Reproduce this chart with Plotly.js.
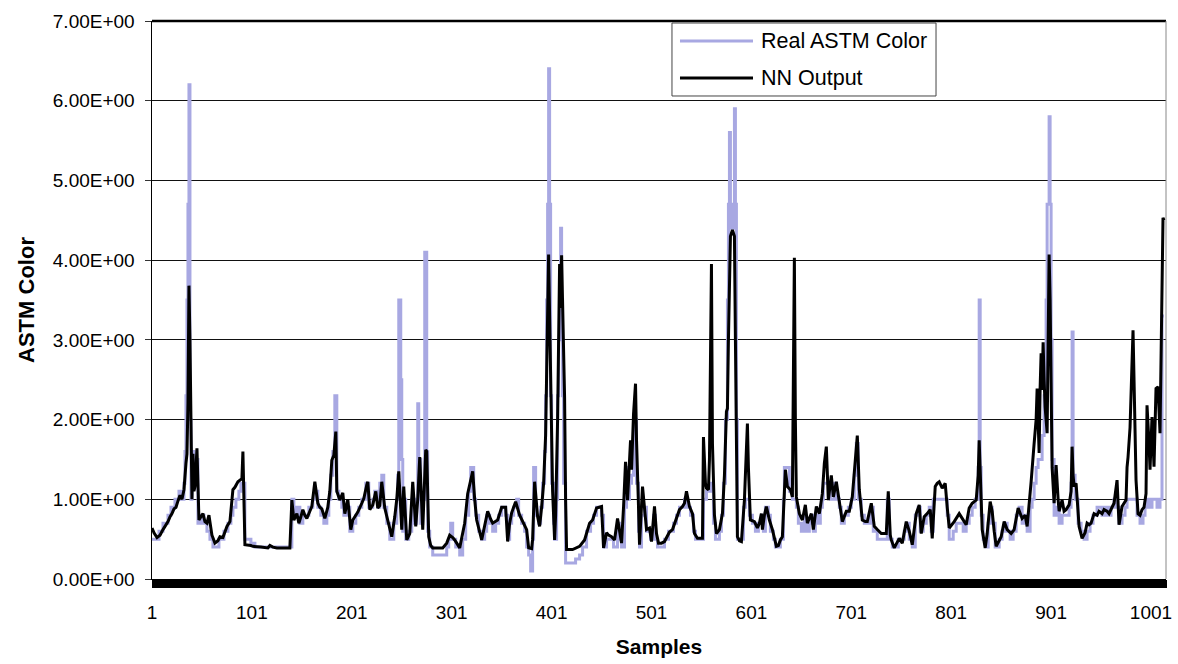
<!DOCTYPE html>
<html>
<head>
<meta charset="utf-8">
<script src="https://cdn.plot.ly/plotly-3.0.1.min.js"></script>
<style>
  html, body { margin: 0; padding: 0; background: #ffffff; }
  #chart { width: 1178px; height: 664px; }
</style>
</head>
<body>
<div id="chart"></div>
<script>
// ---- Data ----
// NN Output: sample index (vertices) and values
const nnSamples = [1,3,6,9,12,15,17,19,21,23,25,27,29,31,33,35,36,37,38,39,40,41,42,43,44,46,47,48,50,52,54,56,58,61,64,67,69,72,76,79,82,84,87,91,92,93,94,100,102,110,117,119,122,126,139,141,143,146,148,150,152,154,156,159,161,164,167,169,171,174,177,179,181,183,185,186,189,192,194,197,200,202,205,207,211,213,216,217,219,222,225,227,229,231,234,237,241,244,246,248,250,251,253,256,259,262,265,267,269,272,275,276,278,280,282,292,296,299,302,304,309,314,317,320,322,324,326,331,334,337,340,342,347,351,355,357,359,361,363,365,369,372,376,378,381,382,384,387,389,391,393,395,396,397,398,399,401,402,404,405,407,408,409,410,411,412,413,414,415,416,422,429,434,439,442,446,451,453,456,458,461,464,467,471,473,475,477,480,481,483,485,486,488,489,492,494,496,499,501,504,506,508,511,514,517,519,522,526,529,532,534,536,539,542,544,547,552,553,555,556,558,559,560,561,562,564,566,569,572,574,576,577,578,579,580,582,584,585,586,587,589,591,594,597,598,600,604,607,609,611,612,614,616,619,622,624,626,628,630,632,635,637,640,642,643,644,645,646,649,652,655,657,661,663,666,669,672,674,676,678,681,683,686,689,692,696,699,702,705,706,707,709,712,715,717,721,724,727,731,736,738,740,741,744,749,752,756,759,762,766,769,771,774,777,780,782,785,787,789,792,795,797,799,804,807,809,812,816,819,822,826,828,829,830,831,832,835,837,840,842,844,846,851,854,857,861,864,868,872,875,877,879,881,884,886,887,889,890,891,892,893,894,895,897,898,899,900,901,902,904,906,908,909,912,914,916,919,921,922,923,924,926,928,929,932,935,937,939,941,944,947,949,952,954,957,959,962,964,967,969,972,976,977,978,980,981,983,984,986,988,990,992,994,996,997,999,1000,1002,1004,1006,1008,1010,1011,1012,1013,1014];
const nnValues = [0.64,0.58,0.52,0.55,0.62,0.68,0.72,0.78,0.82,0.88,0.9,0.98,1.05,1.0,1.12,1.45,1.57,2.2,3.68,3.0,2.0,1.0,1.57,1.1,1.16,1.64,1.2,0.74,0.78,0.82,0.72,0.7,0.8,0.55,0.45,0.48,0.53,0.52,0.66,0.72,1.12,1.15,1.22,1.26,1.6,1.0,0.43,0.42,0.41,0.4,0.39,0.42,0.4,0.39,0.39,0.99,0.74,0.82,0.7,0.78,0.87,0.8,0.76,0.85,0.91,1.22,0.95,0.9,0.88,0.76,0.9,1.1,1.49,1.55,1.85,1.1,0.99,1.08,0.82,1.0,0.62,0.74,0.8,0.84,0.95,1.01,1.18,1.22,0.87,0.93,1.1,0.89,0.92,1.22,0.89,0.74,0.53,0.78,1.0,1.35,0.75,0.62,1.16,0.49,0.57,1.22,0.66,1.0,1.53,0.62,1.62,1.6,0.53,0.42,0.39,0.39,0.45,0.55,0.52,0.49,0.39,0.7,1.07,1.25,1.35,1.0,0.74,0.49,0.65,0.85,0.75,0.7,0.74,0.9,0.9,0.47,0.7,0.83,0.9,0.97,0.8,0.72,0.62,0.39,0.38,0.5,1.22,0.78,0.66,0.9,1.2,1.8,2.43,3.2,4.07,3.3,1.8,1.1,0.49,0.8,2.0,3.2,3.95,3.4,4.06,3.45,2.9,2.28,1.0,0.37,0.37,0.41,0.49,0.7,0.74,0.89,0.91,0.39,0.58,0.55,0.53,0.49,0.76,0.45,0.9,1.47,0.99,1.74,1.37,2.07,2.45,1.74,0.9,0.43,1.16,0.91,0.62,0.64,0.47,0.91,0.57,0.45,0.45,0.47,0.55,0.59,0.62,0.78,0.87,0.91,0.95,1.1,0.91,0.82,0.57,0.51,0.51,1.78,1.2,1.14,1.12,1.5,2.8,3.95,1.7,0.8,0.57,0.62,0.82,1.3,2.1,2.14,3.0,3.6,4.3,4.38,4.3,3.0,1.8,0.53,0.48,0.47,0.99,1.95,1.4,0.74,0.72,0.64,0.7,0.82,0.62,0.8,0.91,0.74,0.62,0.5,0.41,0.42,0.49,0.53,1.37,1.16,1.12,1.03,2.5,4.03,2.0,1.03,0.82,0.74,0.93,0.7,0.82,0.62,0.91,0.82,1.07,1.45,1.66,0.99,1.3,1.03,1.22,0.95,0.72,0.85,0.85,1.03,1.5,1.7,1.8,1.12,0.74,0.72,0.72,0.95,0.66,0.62,0.57,0.57,1.1,0.55,0.49,0.39,0.51,0.45,0.72,0.6,0.43,0.82,0.93,0.57,0.78,0.82,0.87,0.51,1.16,1.2,1.22,1.14,1.2,0.9,0.64,0.72,0.78,0.82,0.76,0.68,0.89,0.95,0.99,1.3,1.74,1.3,1.16,0.62,0.39,0.57,0.97,0.85,0.6,0.41,0.53,0.72,0.62,0.57,0.62,0.89,0.76,0.8,0.66,0.9,1.22,1.7,2.0,2.39,1.58,2.4,2.83,2.37,2.97,2.5,2.16,1.83,3.0,4.07,3.5,2.3,1.4,0.95,1.43,1.0,0.85,0.99,0.85,0.87,0.93,1.1,1.66,1.3,1.16,1.2,0.9,0.66,0.51,0.58,0.7,0.68,0.7,0.82,0.8,0.85,0.82,0.87,0.85,0.82,0.9,0.95,1.24,0.68,0.91,0.99,1.4,1.53,1.9,2.24,3.12,2.5,1.24,0.82,0.8,0.87,0.9,1.07,2.18,1.7,1.37,2.03,1.41,2.39,2.41,1.83,3.0,4.0,4.53,4.5];

// Real ASTM Color: step series, value holds from each listed sample until the next
const realSamples = [1,8,12,17,20,24,28,31,33,34,35,36,37,38,39,40,41,43,45,47,50,53,56,59,62,68,73,77,80,82,85,88,90,94,100,104,141,143,146,149,152,158,162,165,167,170,173,176,178,180,182,184,186,188,191,193,196,199,202,205,208,211,215,218,222,224,227,229,231,233,236,239,243,246,247,248,250,251,252,253,255,258,261,263,266,267,268,270,272,274,276,277,279,282,296,298,300,302,305,309,312,315,318,320,323,325,328,331,334,336,339,342,345,348,351,355,357,359,361,363,366,368,371,374,376,378,380,382,383,385,388,390,392,394,395,396,397,398,399,400,401,403,404,406,407,408,409,410,411,412,413,415,425,429,432,436,440,443,446,451,453,456,460,463,467,469,471,474,476,477,479,481,483,484,486,488,489,491,494,496,500,503,505,507,514,518,523,526,529,534,537,540,543,545,553,556,561,563,565,569,571,573,575,577,578,579,580,581,583,584,585,586,587,593,595,599,602,605,608,611,613,615,618,620,623,625,630,633,634,639,642,646,648,651,654,656,659,661,663,665,668,670,672,673,680,684,686,689,691,694,698,701,704,706,708,711,714,720,723,727,737,739,742,748,754,757,759,762,765,768,770,773,776,779,781,783,797,799,803,806,813,816,819,822,825,828,829,830,831,833,836,838,840,842,845,849,852,855,857,860,863,866,869,872,875,877,880,882,884,886,888,892,894,896,897,899,900,901,902,904,906,909,912,919,921,922,923,925,928,931,934,937,940,943,947,952,955,958,961,964,967,969,972,975,977,987,990,993,995,997,1000,1002,1007,1010,1012,1014];
const realValues = [0.5,0.6,0.7,0.8,0.9,1.0,1.1,1.0,1.2,1.6,2.3,3.5,4.7,6.2,2.0,1.0,1.6,1.3,1.5,0.7,0.8,0.7,0.6,0.5,0.4,0.5,0.6,0.7,0.8,0.9,1.0,1.1,1.2,0.5,0.45,0.4,1.0,0.8,0.9,0.7,0.8,0.9,1.0,1.1,0.9,0.8,0.7,0.8,1.0,1.3,1.6,2.3,1.1,1.0,0.9,0.8,0.9,0.6,0.7,0.8,0.9,1.0,1.2,0.9,1.0,1.1,0.9,1.2,1.3,0.9,0.7,0.5,0.7,1.0,1.3,3.5,2.5,1.5,0.6,1.0,0.5,0.6,1.0,0.7,1.0,2.2,1.5,0.7,1.0,4.1,1.6,0.6,0.4,0.3,0.4,0.5,0.7,0.5,0.4,0.3,0.5,0.8,1.1,1.4,1.0,0.8,0.6,0.5,0.6,0.8,0.7,0.6,0.7,0.8,0.9,0.8,0.5,0.7,0.8,0.9,1.0,0.8,0.7,0.6,0.4,0.3,0.1,0.5,1.4,0.8,0.7,0.9,1.2,1.6,2.3,3.5,4.7,6.4,4.7,2.3,1.2,0.7,0.5,1.0,2.3,3.0,3.5,4.4,3.5,2.3,1.2,0.2,0.25,0.3,0.4,0.6,0.7,0.8,0.9,0.8,0.4,0.5,0.5,0.4,0.7,0.5,0.4,0.9,1.4,1.0,1.2,1.3,1.5,2.0,1.2,0.6,0.4,0.8,0.9,0.6,0.5,0.8,0.5,0.4,0.5,0.6,0.7,0.8,0.9,1.0,0.9,0.8,0.6,0.5,1.0,1.1,1.2,0.7,0.5,0.6,0.8,1.2,2.0,3.5,4.7,5.6,4.7,4.4,4.7,5.9,4.7,2.0,0.5,0.9,1.0,0.8,0.7,0.6,0.7,0.8,0.6,0.9,0.8,0.6,0.5,0.4,0.5,1.0,1.4,1.1,1.0,0.9,0.7,0.6,0.8,0.6,0.7,0.8,0.6,0.8,0.7,0.9,1.0,1.2,1.0,1.2,1.0,0.9,0.7,0.8,0.9,1.0,1.3,1.7,1.0,0.8,0.7,0.9,0.6,0.5,1.0,0.5,0.4,0.5,0.6,0.7,0.5,0.4,0.8,0.9,0.6,0.7,0.8,0.9,0.6,1.0,0.8,0.5,0.6,0.7,0.6,0.7,0.8,0.9,1.0,1.4,3.5,1.4,0.8,0.5,0.4,0.7,0.9,0.7,0.4,0.5,0.6,0.7,0.6,0.5,0.6,0.8,0.9,0.7,0.8,0.6,0.9,1.0,1.2,1.4,1.5,1.8,2.3,3.5,4.7,5.8,4.7,3.0,1.5,0.8,0.9,0.7,0.8,0.9,1.2,3.1,1.3,1.0,0.7,0.6,0.5,0.6,0.7,0.8,0.9,0.8,0.9,0.8,0.9,1.0,0.9,0.7,0.8,0.9,1.0,0.8,0.7,0.8,0.9,1.0,0.9,1.0,0.9,1.0,3.3,3.3];

const yTickValues = [0,1,2,3,4,5,6,7];
const yTickLabels = ["0.00E+00","1.00E+00","2.00E+00","3.00E+00","4.00E+00","5.00E+00","6.00E+00","7.00E+00"];
const seriesNames = ["Real ASTM Color","NN Output"];

// ---- Chart ----
const realColor = "rgb(168,168,226)";
const fontFam = "Liberation Sans, Arial, Helvetica, sans-serif";

const traces = [
  {
    type: "scatter", mode: "lines", name: seriesNames[0],
    x: realSamples, y: realValues,
    line: { color: realColor, width: 3, shape: "hv" },
    hoverinfo: "x+y"
  },
  {
    type: "scatter", mode: "lines", name: seriesNames[1],
    x: nnSamples, y: nnValues,
    line: { color: "#000000", width: 3 },
    hoverinfo: "x+y"
  }
];

// legend geometry (paper coords)
const lgX0 = 0.5128, lgX1 = 0.7732, lgY0 = 0.8656, lgY1 = 0.9964;
const lineX0 = 0.5207, lineX1 = 0.5927, row1 = 0.9642, row2 = 0.8978, txtX = 0.5986;

const layout = {
  width: 1178, height: 664,
  margin: { l: 152, r: 12, t: 21, b: 85, pad: 0 },
  paper_bgcolor: "#ffffff", plot_bgcolor: "#ffffff",
  showlegend: false,
  font: { family: fontFam, color: "#000000", size: 19 },
  xaxis: {
    range: [1, 1016],
    tickmode: "linear", tick0: 1, dtick: 100,
    ticks: "outside", ticklen: 8, tickwidth: 1, tickcolor: "#000000",
    minor: { tickmode: "linear", tick0: 1, dtick: 1, ticks: "outside", ticklen: 8, tickwidth: 1, tickcolor: "#000000", showgrid: false },
    showgrid: false, zeroline: false,
    showline: true, linecolor: "#000000", linewidth: 1,
    tickfont: { family: fontFam, size: 19, color: "#000000" },
    ticklabelstandoff: 8,
    title: { text: "<b>Samples</b>", font: { family: fontFam, size: 21, color: "#000000" }, standoff: 17 }
  },
  yaxis: {
    range: [0, 7],
    tickmode: "array", tickvals: yTickValues, ticktext: yTickLabels,
    ticks: "outside", ticklen: 6, tickwidth: 1, tickcolor: "#333333",
    showgrid: true, gridcolor: "#111111", gridwidth: 1,
    zeroline: false,
    showline: true, linecolor: "#000000", linewidth: 1.5,
    tickfont: { family: fontFam, size: 19, color: "#000000" },
    ticklabelstandoff: 6,
    title: { text: "<b>ASTM Color</b>", font: { family: fontFam, size: 22, color: "#000000" }, standoff: 12 }
  },
  shapes: [
    // plot-area top (thick) and right (thin grey) borders
    { type: "line", xref: "paper", yref: "paper", x0: 0, x1: 1, y0: 1, y1: 1, line: { color: "#000000", width: 2.5 } },
    { type: "line", xref: "paper", yref: "paper", x0: 1, x1: 1, y0: 0, y1: 1, line: { color: "#888888", width: 1 } },
    // legend box
    { type: "rect", xref: "paper", yref: "paper", x0: lgX0, x1: lgX1, y0: lgY0, y1: lgY1, fillcolor: "#ffffff", line: { color: "#444444", width: 1 }, layer: "above" },
    { type: "line", xref: "paper", yref: "paper", x0: lineX0, x1: lineX1, y0: row1, y1: row1, line: { color: realColor, width: 3 }, layer: "above" },
    { type: "line", xref: "paper", yref: "paper", x0: lineX0, x1: lineX1, y0: row2, y1: row2, line: { color: "#000000", width: 3 }, layer: "above" }
  ],
  annotations: [
    { xref: "paper", yref: "paper", x: txtX, y: row1, xanchor: "left", yanchor: "middle", showarrow: false, text: seriesNames[0], font: { family: fontFam, size: 21.5, color: "#000000" } },
    { xref: "paper", yref: "paper", x: txtX, y: row2, xanchor: "left", yanchor: "middle", showarrow: false, text: seriesNames[1], font: { family: fontFam, size: 21.5, color: "#000000" } }
  ]
};

Plotly.newPlot("chart", traces, layout, { displayModeBar: false, staticPlot: true });
</script>
</body>
</html>
